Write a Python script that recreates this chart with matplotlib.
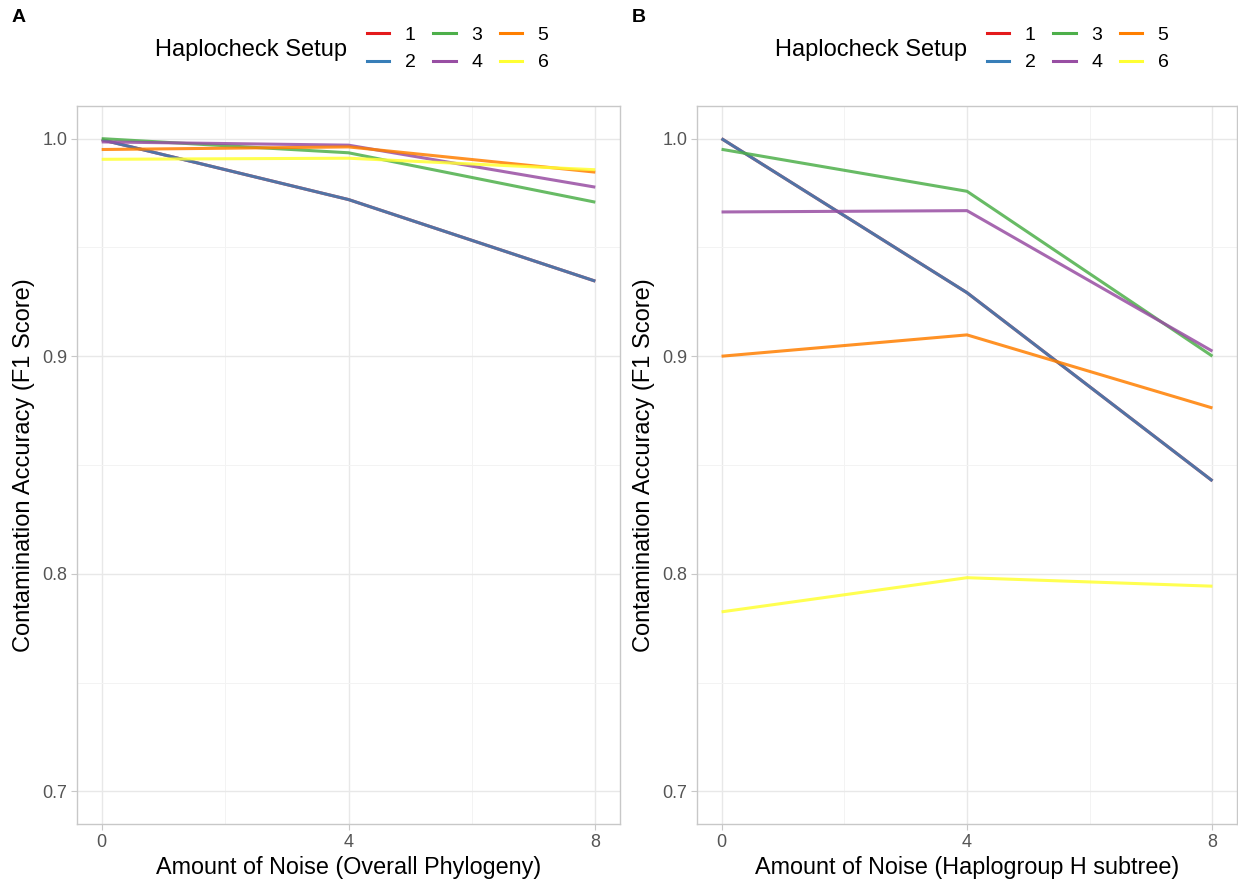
import matplotlib.pyplot as plt
from matplotlib.lines import Line2D

plt.rcParams['font.family'] = ['Liberation Sans', 'DejaVu Sans']

noise = [0, 4, 8]
setups = ["1", "2", "3", "4", "5", "6"]
colors = ["#E41A1C", "#377EB8", "#4DAF4A", "#984EA3", "#FF7F00", "#FFFF33"]

##panel A, overall phylogeny
f1_overall = {
    "1": [0.9995, 0.9720, 0.9345],
    "2": [0.9995, 0.9720, 0.9345],
    "3": [1.0000, 0.9935, 0.9708],
    "4": [0.9985, 0.9970, 0.9777],
    "5": [0.9950, 0.9962, 0.9846],
    "6": [0.9905, 0.9910, 0.9857],
}
##panel B, haplogroup H subtree
f1_subtree = {
    "1": [1.0000, 0.9292, 0.8427],
    "2": [1.0000, 0.9292, 0.8427],
    "3": [0.9951, 0.9758, 0.9000],
    "4": [0.9663, 0.9669, 0.9023],
    "5": [0.9000, 0.9098, 0.8762],
    "6": [0.7825, 0.7982, 0.7943],
}

xlabels = ["Amount of Noise (Overall Phylogeny)", "Amount of Noise (Haplogroup H subtree)"]
ylabel = "Contamination Accuracy (F1 Score)"

W, H = 1238, 882
fig = plt.figure(figsize=(W / 100, H / 100), dpi=100)

panels = [("A", f1_overall, 77, 620), ("B", f1_subtree, 697, 1237)]
top, bottom = 106, 824

for i, (tag, data, left, right) in enumerate(panels):
    ax = fig.add_axes([left / W, 1 - bottom / H, (right - left) / W, (bottom - top) / H])
    for s, c in zip(setups, colors):
        ax.plot(noise, data[s], color=c, lw=2.2, alpha=0.85, solid_capstyle='butt')
    ax.set_xlim(-0.4, 8.4)
    ax.set_ylim(0.685, 1.015)
    ax.set_xticks([0, 4, 8])
    ax.set_xticks([2, 6], minor=True)
    ax.set_yticks([0.7, 0.8, 0.9, 1.0])
    ax.set_yticklabels(["0.7", "0.8", "0.9", "1.0"])
    ax.set_yticks([0.75, 0.85, 0.95], minor=True)
    ax.grid(True, which='major', color='#e8e8e8', lw=1.0)
    ax.grid(True, which='minor', color='#f3f3f3', lw=0.7)
    ax.set_axisbelow(True)
    for sp in ax.spines.values():
        sp.set_color('#c8c8c8')
        sp.set_linewidth(1.0)
    ax.tick_params(which='major', length=4, color='#c8c8c8', labelcolor='#555555', labelsize=13, pad=3)
    ax.tick_params(which='minor', length=0)
    ax.set_xlabel(xlabels[i], fontsize=16.8, color='black', labelpad=4)
    ax.set_ylabel(ylabel, fontsize=17, color='black', labelpad=5)

    fig.text((left - 65) / W, 1 - 18 / H, tag, fontsize=14, fontweight='bold', va='center', ha='left')

    fig.text((left + 78) / W, 1 - 50 / H, "Haplocheck Setup", fontsize=17, va='center', ha='left')
    handles = [Line2D([], [], color=c, lw=2.2) for c in colors]
    fig.legend(handles, setups, ncol=3, loc='center left',
               bbox_to_anchor=((left + 290) / W, 1 - 49 / H), frameon=False,
               fontsize=14, handlelength=1.15, handletextpad=0.8, columnspacing=0.9,
               labelspacing=0.5, borderpad=0, borderaxespad=0)

fig.savefig("out.png", dpi=100)
